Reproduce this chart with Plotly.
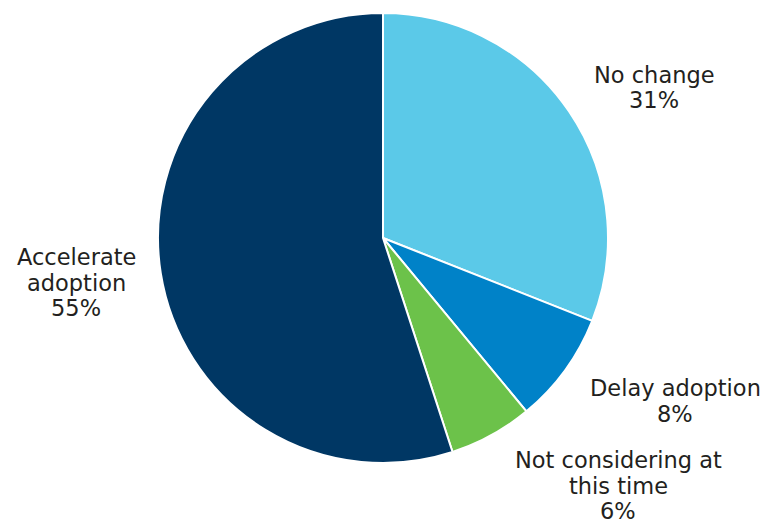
import plotly.graph_objects as go

# Survey responses, in clockwise order from 12 o'clock
categories = ["No change", "Delay adoption", "Not considering at this time", "Accelerate adoption"]
shares = [31, 8, 6, 55]
label_lines = [["No change"], ["Delay adoption"], ["Not considering at", "this time"], ["Accelerate", "adoption"]]
colors = ["#5BC9E8", "#0082C8", "#6CC24A", "#003764"]

W, H = 769, 523
cx, cy, r = 383, 238, 225

fig = go.Figure(go.Pie(
    labels=categories,
    values=shares,
    sort=False,
    direction="clockwise",
    rotation=0,
    marker=dict(colors=colors, line=dict(color="white", width=2)),
    textinfo="none",
    hoverinfo="label+percent",
    domain=dict(x=[(cx - r) / W, (cx + r) / W], y=[(H - cy - r) / H, (H - cy + r) / H]),
    showlegend=False,
))

# outside labels: centre x and first-line centre y (pixels), one annotation per line
label_pos = [(654, 75), (675, 388), (618, 460), (76, 257)]
line_step = 25.5
for lines, v, (px, py) in zip(label_lines, shares, label_pos):
    for i, txt in enumerate(lines + [f"{v}%"]):
        fig.add_annotation(
            x=px / W, y=1 - (py + i * line_step) / H, xref="paper", yref="paper",
            text=txt, showarrow=False,
            xanchor="center", yanchor="middle",
            font=dict(family="DejaVu Sans", size=22.5, color="#231F20"),
        )

fig.update_layout(
    width=W, height=H,
    margin=dict(l=0, r=0, t=0, b=0),
    paper_bgcolor="white", plot_bgcolor="white",
)

fig.write_html("out.html")
